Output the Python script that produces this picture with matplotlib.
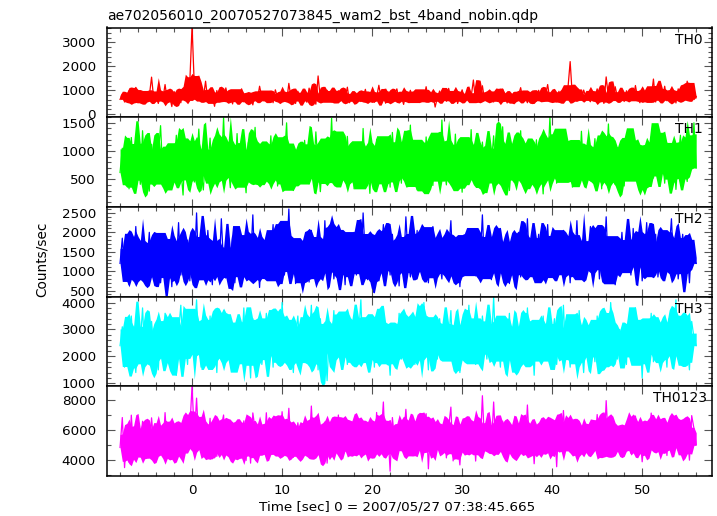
import numpy as np
from matplotlib import pyplot as plt
from matplotlib.ticker import MultipleLocator
from numpy.lib.stride_tricks import sliding_window_view

plt.rcParams['font.family'] = ['DejaVu Sans']

TITLE = "ae702056010_20070527073845_wam2_bst_4band_nobin.qdp"
XLABEL = "Time [sec] 0 = 2007/05/27 07:38:45.665"
YLABEL = "Counts/sec"

# 0.25 s bins starting at t = -8 s
T0, DT = -8.0, 0.25

th0 = [
    620, 840, 510, 730, 980, 560, 690, 1120, 470, 800, 650, 910, 540, 760, 1550, 600,
    710, 450, 880, 630, 1240, 580, 770, 320, 950, 690, 820, 480, 1010, 640, 730, 1370,
    3700, 1150, 760, 590, 920, 680, 1380, 540, 810, 700, 330, 990, 620, 850, 570, 1100,
    660, 780, 430, 940, 710, 590, 1060, 520, 830, 670, 750, 390, 880, 610, 1170, 700,
    560, 900, 640, 800, 480, 1020, 690, 740, 590, 870, 530, 1290, 650, 780, 450, 960,
    720, 610, 850, 500, 1090, 680, 760, 420, 1600, 640, 810, 570, 1000, 700, 520, 890,
    640, 980, 550, 760, 690, 1130, 480, 820, 610, 740, 900, 530, 680, 1040, 590, 770,
    870, 500, 720, 1210, 630, 790, 460, 950, 690, 560, 840, 1060, 610, 730, 410, 880,
    660, 1000, 570, 810, 720, 490, 940, 640, 1150, 590, 760, 850, 300, 690, 970, 620,
    780, 540, 1080, 700, 610, 890, 450, 760, 1020, 650, 820, 570, 730, 1430, 500, 840,
    690, 1190, 580, 770, 640, 880, 510, 960, 710, 600, 1050, 740, 470, 830, 660, 900,
    560, 790, 1110, 620, 720, 480, 910, 680, 850, 540, 1000, 700, 610, 780, 1240, 590,
    740, 870, 520, 960, 660, 800, 580, 1080, 2200, 690, 930, 550, 760, 620, 1010, 700,
    640, 520, 890, 730, 1060, 600, 780, 450, 1560, 690, 830, 570, 1150, 710, 620, 860,
    530, 980, 700, 790, 610, 1200, 660, 480, 900, 740, 580, 1030, 690, 1470, 510, 950,
    720, 630, 1170, 560, 800, 690, 910, 470, 1060, 650, 760, 590, 1380, 700, 1120, 610,
    740,
]

th1 = [
    620, 1050, 480, 890, 330, 1240, 700, 560, 980, 410, 1360, 650, 820, 290, 1120, 740,
    530, 930, 1450, 610, 380, 870, 1010, 470, 760, 1280, 560, 690, 220, 1160, 850, 600,
    1040, 450, 780, 1390, 640, 310, 920, 710, 1230, 530, 860, 400, 1080, 670, 1590, 580,
    760, 350, 990, 620, 1310, 480, 840, 700, 260, 1150, 590, 910, 1420, 520, 730, 1020,
    440, 810, 650, 1270, 560, 950, 380, 1100, 690, 820, 1500, 470, 770, 300, 1010, 630,
    890, 520, 1190, 710, 420, 980, 600, 1340, 750, 280, 870, 1060, 540, 680, 1580, 490,
    720, 1130, 400, 850, 640, 1260, 570, 930, 330, 1040, 780, 490, 1400, 660, 820, 250,
    980, 610, 1210, 450, 760, 1090, 540, 880, 360, 1330, 700, 590, 1000, 430, 1170, 810,
    650, 1460, 520, 790, 310, 1060, 880, 470, 1250, 620, 940, 390, 1120, 730, 560, 1550,
    700, 400, 1020, 840, 580, 1300, 490, 910, 270, 1080, 760, 620, 1380, 530, 850, 990,
    450, 1160, 680, 340, 960, 790, 1270, 560, 870, 420, 1430, 640, 1010, 300, 780, 1140,
    590, 880, 1360, 470, 720, 1050, 380, 930, 650, 1200, 520, 830, 240, 1090, 700, 1600,
    610, 950, 430, 1180, 770, 560, 1290, 680, 890, 360, 1040, 740, 500, 1350, 620, 860,
    1000, 470, 790, 1220, 580, 940, 330, 1110, 710, 1480, 540, 820, 410, 1060, 650, 920,
    380, 1170, 730, 560, 1320, 690, 870, 450, 1030, 280, 960, 640, 1250, 520, 790, 1400,
    670, 900, 430, 1140, 750, 590, 1010, 320, 880, 1280, 610, 730, 460, 1090, 800, 1500,
    700,
]

th2 = [
    1200, 1850, 900, 1450, 650, 1700, 1100, 2150, 950, 1350, 780, 1600, 1250, 2000, 850, 1400,
    1050, 1750, 700, 1300, 1950, 1000, 1500, 600, 1650, 1150, 2250, 900, 1400, 1200, 1800, 750,
    1550, 1100, 2500, 850, 1350, 1700, 980, 2050, 1250, 650, 1600, 1450, 1000, 2350, 1150, 820,
    1500, 1300, 1900, 700, 1400, 2100, 1050, 1600, 880, 1750, 1250, 2450, 950, 1350, 580, 1650,
    1200, 1850, 1000, 1450, 2200, 780, 1550, 1150, 1950, 900, 1300, 2600, 1100, 1700, 680, 1400,
    1600, 950, 1800, 1250, 720, 2050, 1350, 1000, 1700, 1500, 850, 2300, 1150, 1450, 1900, 800,
    1300, 2100, 1050, 1550, 650, 1800, 1200, 1400, 2000, 900, 1650, 1100, 2500, 1350, 780, 1750,
    1000, 1500, 1850, 750, 1400, 2200, 1150, 1600, 900, 1950, 1250, 1450, 620, 1700, 1100, 2400,
    1350, 850, 1750, 1200, 2050, 980, 1550, 1300, 1900, 700, 1450, 2150, 1050, 1650, 1250, 800,
    1800, 1100, 1500, 2300, 950, 1400, 1750, 600, 1600, 1200, 2000, 1050, 1350, 1850, 880, 1550,
    1250, 2450, 1000, 1700, 1350, 780, 1900, 1150, 1500, 2100, 920, 1600, 1300, 680, 1800, 1100,
    1450, 2000, 850, 1550, 1250, 2350, 1050, 1700, 950, 1400, 1950, 750, 1600, 1200, 2200, 1000,
    1700, 1300, 900, 1850, 1450, 2050, 1100, 1550, 700, 1750, 1250, 2300, 1000, 1400, 1650, 850,
    1500, 2150, 1150, 1350, 1900, 800, 1600, 1250, 2400, 950, 1450, 1750, 650, 1550, 1200, 2000,
    1100, 1650, 1350, 900, 2100, 1250, 1500, 1800, 750, 1400, 2250, 1050, 1600, 1300, 1950, 850,
    1450, 1200, 1850, 1000, 1550, 2350, 1150, 1700, 800, 1400, 1950, 1100, 1600, 700, 1750, 1300,
    1200,
]

th3 = [
    2400, 3100, 1600, 2800, 1900, 3500, 2200, 1400, 2900, 2500, 3800, 2000, 2700, 1700, 3300, 2300,
    2600, 1500, 3000, 2100, 3600, 2400, 1800, 3200, 2700, 1300, 2900, 3900, 2200, 2500, 1700, 3400,
    2700, 2800, 4100, 2300, 1600, 3100, 2600, 1900, 3500, 2200, 2900, 1400, 3300, 2400, 3700, 2100,
    2700, 1800, 3200, 2500, 1500, 3000, 2300, 3800, 2000, 2600, 1200, 3400, 2800, 2100, 3100, 1700,
    2500, 3600, 2200, 2900, 1600, 3300, 2400, 2000, 4000, 2600, 1900, 3100, 2300, 1400, 2800, 3500,
    2100, 2700, 1800, 3200, 2500, 3900, 2000, 2900, 1500, 3400, 2300, 2600, 1100, 3000, 2400, 3700,
    1900, 2800, 3300, 2200, 2600, 1700, 3500, 2400, 2000, 3100, 2700, 4100, 1800, 2500, 3200, 2100,
    2900, 1600, 3400, 2300, 2700, 3800, 2000, 2500, 1300, 3000, 2600, 2200, 3600, 1900, 2800, 3300,
    2400, 2000, 3100, 1700, 3500, 2600, 2200, 4000, 2800, 1500, 3200, 2300, 2700, 1900, 3400, 2500,
    3000, 2100, 2600, 3700, 1800, 2900, 2400, 1400, 3300, 2200, 2800, 3900, 2000, 2500, 1700, 3100,
    2300, 3500, 2700, 1900, 3000, 2400, 4200, 2100, 2600, 1600, 3200, 2800, 2200, 3600, 1800, 2900,
    2500, 1500, 3300, 2700, 2000, 3800, 2400, 2900, 1300, 3100, 2600, 2100, 3500, 2300, 1900, 3000,
    2600, 3400, 1700, 2800, 2300, 3900, 2100, 2500, 1600, 3200, 2700, 2000, 3700, 2400, 1400, 2900,
    2200, 3100, 2600, 1800, 3500, 2400, 2900, 1500, 3300, 2000, 4000, 2700, 2300, 1900, 3000, 2500,
    2800, 1700, 3400, 2200, 2600, 3800, 2000, 2900, 1200, 3100, 2500, 2300, 3600, 1800, 2700, 3200,
    2100, 3000, 2500, 1600, 3400, 2300, 2800, 4100, 1900, 2600, 3200, 2000, 2400, 1500, 3300, 2700,
    2400,
]

labels = ["TH0", "TH1", "TH2", "TH3", "TH0123"]
colors = ["#ff0000", "#00ff00", "#0000ff", "#00ffff", "#ff00ff"]
ylims = [(-125, 3625), (10, 1600), (345, 2655), (890, 4220), (2930, 8930)]
major = [1000, 500, 500, 1000, 2000]
minor = [200, 100, 100, 200, 1000]

bands = [np.array(th0), np.array(th1), np.array(th2), np.array(th3)]
total = bands[0] + bands[1] + bands[2] + bands[3]
t = T0 + DT * np.arange(len(th0))


# solid body of the densely sampled curve, from rolling order statistics
def core(y, k=1.55):
    w = np.sort(sliding_window_view(np.pad(y, 3, mode="edge"), 7), axis=1)
    med = w[:, 3]
    return med, k * (med - w[:, 1]), k * (w[:, 5] - med)


cores = [core(b) for b in bands]
# summed band: medians add, spreads add in quadrature
med_s = sum(c[0] for c in cores)
dlo_s = np.sqrt(sum(c[1] ** 2 for c in cores))
dhi_s = np.sqrt(sum(c[2] ** 2 for c in cores))
cores.append((med_s, dlo_s, dhi_s))
series = bands + [total]

W, H = 717, 516
fig = plt.figure(figsize=(W / 100, H / 100), dpi=100)
left, right = 107 / W, 711.5 / W
ptop, ph = 27.5, 89.7   # pixels

for i, y in enumerate(series):
    ax = fig.add_axes([left, 1 - (ptop + (i + 1) * ph) / H, right - left, ph / H])
    med, dlo, dhi = cores[i]
    ax.fill_between(t, med - dlo, med + dhi, color=colors[i], lw=0)
    ax.plot(t, y, color=colors[i], lw=0.9)
    ax.set_xlim(-9.45, 57.7)
    ax.set_ylim(*ylims[i])
    ax.xaxis.set_major_locator(MultipleLocator(10))
    ax.xaxis.set_minor_locator(MultipleLocator(2))
    ax.yaxis.set_major_locator(MultipleLocator(major[i]))
    ax.yaxis.set_minor_locator(MultipleLocator(minor[i]))
    ax.tick_params(which="both", direction="in", top=True, right=True,
                   color="#555555", labelsize=9.7)
    ax.tick_params(which="major", length=6, width=0.8)
    ax.tick_params(which="minor", length=3, width=0.8)
    ax.tick_params(axis="y", pad=8)
    ax.tick_params(axis="x", pad=6)
    for s in ax.spines.values():
        s.set_linewidth(1.1)
        s.set_color("black")
    if i < 4:
        ax.tick_params(labelbottom=False)
    xr = 707 if i == 4 else 703
    ax.text((xr - 107) / (711.5 - 107), 1 - 5 / ph, labels[i], transform=ax.transAxes,
            ha="right", va="top", fontsize=10)

fig.text(left, 1 - 20 / H, TITLE, ha="left", va="baseline", fontsize=10)
fig.text(42 / W, 1 - 259 / H, YLABEL, rotation=90, ha="center", va="center",
         fontsize=9.8)
fig.text(397.5 / W, 1 - 510.5 / H, XLABEL, ha="center", va="baseline", fontsize=9.7)

fig.savefig("out.png", dpi=100)
